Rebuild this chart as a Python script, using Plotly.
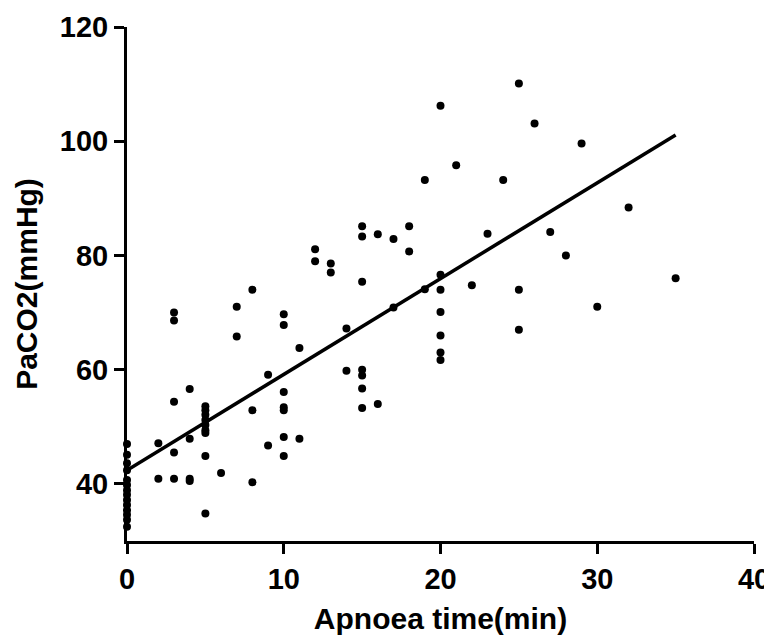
import plotly.graph_objects as go

# Apnoea time (min) and PaCO2 (mmHg)
x0 = [0]*14
y0 = [47.0, 45.1, 43.6, 42.4, 40.7, 39.8, 38.9, 38.1, 37.2, 36.3, 35.4, 34.6, 33.7, 32.5]
apnoea_time = (
    x0
    + [2, 2]
    + [3, 3, 3, 3, 3]
    + [4, 4, 4, 4]
    + [5]*9
    + [6]
    + [7, 7]
    + [8, 8, 8]
    + [9, 9]
    + [10]*7
    + [11, 11]
    + [12, 12]
    + [13, 13]
    + [14, 14]
    + [15]*7
    + [16, 16]
    + [17, 17]
    + [18, 18]
    + [19, 19]
    + [20]*7
    + [21, 22, 23, 24]
    + [25, 25, 25]
    + [26, 27, 28, 29, 30, 32, 35]
)
paco2 = (
    y0
    + [47.1, 40.9]
    + [70.0, 68.6, 54.4, 45.5, 40.9]
    + [56.6, 47.9, 40.9, 40.5]
    + [53.6, 52.9, 52.1, 51.2, 50.3, 49.4, 48.9, 44.9, 34.8]
    + [41.9]
    + [71.0, 65.8]
    + [74.0, 52.9, 40.3]
    + [59.1, 46.7]
    + [69.7, 67.8, 56.1, 53.4, 52.9, 48.2, 44.9]
    + [63.8, 47.9]
    + [81.1, 79.0]
    + [78.6, 77.0]
    + [67.2, 59.8]
    + [85.1, 83.3, 75.4, 60.0, 59.0, 56.7, 53.3]
    + [83.7, 54.0]
    + [82.9, 70.9]
    + [85.1, 80.7]
    + [93.2, 74.1]
    + [106.2, 76.6, 74.0, 70.1, 66.0, 63.0, 61.7]
    + [95.8, 74.8, 83.8, 93.2]
    + [110.1, 74.0, 67.0]
    + [103.1, 84.1, 80.0, 99.6, 71.0, 88.4, 76.0]
)

# Regression line end points
fit_x = [0, 35]
fit_y = [42.4, 101.1]

x_ticks = [0, 10, 20, 30, 40]
y_ticks = [40, 60, 80, 100, 120]

FONT = "Arial, 'Liberation Sans', sans-serif"

fig = go.Figure()
fig.add_trace(go.Scatter(
    x=fit_x, y=fit_y, mode="lines",
    line=dict(color="black", width=3.5),
    hoverinfo="skip", showlegend=False,
))
fig.add_trace(go.Scatter(
    x=apnoea_time, y=paco2, mode="markers",
    marker=dict(color="black", size=8, line=dict(width=0)),
    cliponaxis=False, showlegend=False,
))

axis_common = dict(
    showgrid=False, zeroline=False, showline=True, automargin=False,
    linecolor="black", linewidth=3,
    ticks="outside", ticklen=10, tickwidth=3, tickcolor="black",
    ticklabeloverflow="allow",
    tickfont=dict(family=FONT, size=29, color="black", weight="bold"),
)

# page body has an 8px margin, so the figure is a little smaller than the window
fig.update_layout(
    width=764, height=627,
    margin=dict(l=119, r=18, t=19, b=94),
    paper_bgcolor="white", plot_bgcolor="white",
    xaxis=dict(
        range=[0, 40], tickvals=x_ticks,
        title=dict(text="Apnoea time(min)", standoff=23,
                   font=dict(family=FONT, size=30, color="black", weight="bold")),
        **axis_common,
    ),
    yaxis=dict(
        range=[30, 120], tickvals=y_ticks,
        title=dict(text="PaCO2(mmHg)", standoff=14,
                   font=dict(family=FONT, size=30, color="black", weight="bold")),
        **axis_common,
    ),
)

fig.write_html("out.html")
